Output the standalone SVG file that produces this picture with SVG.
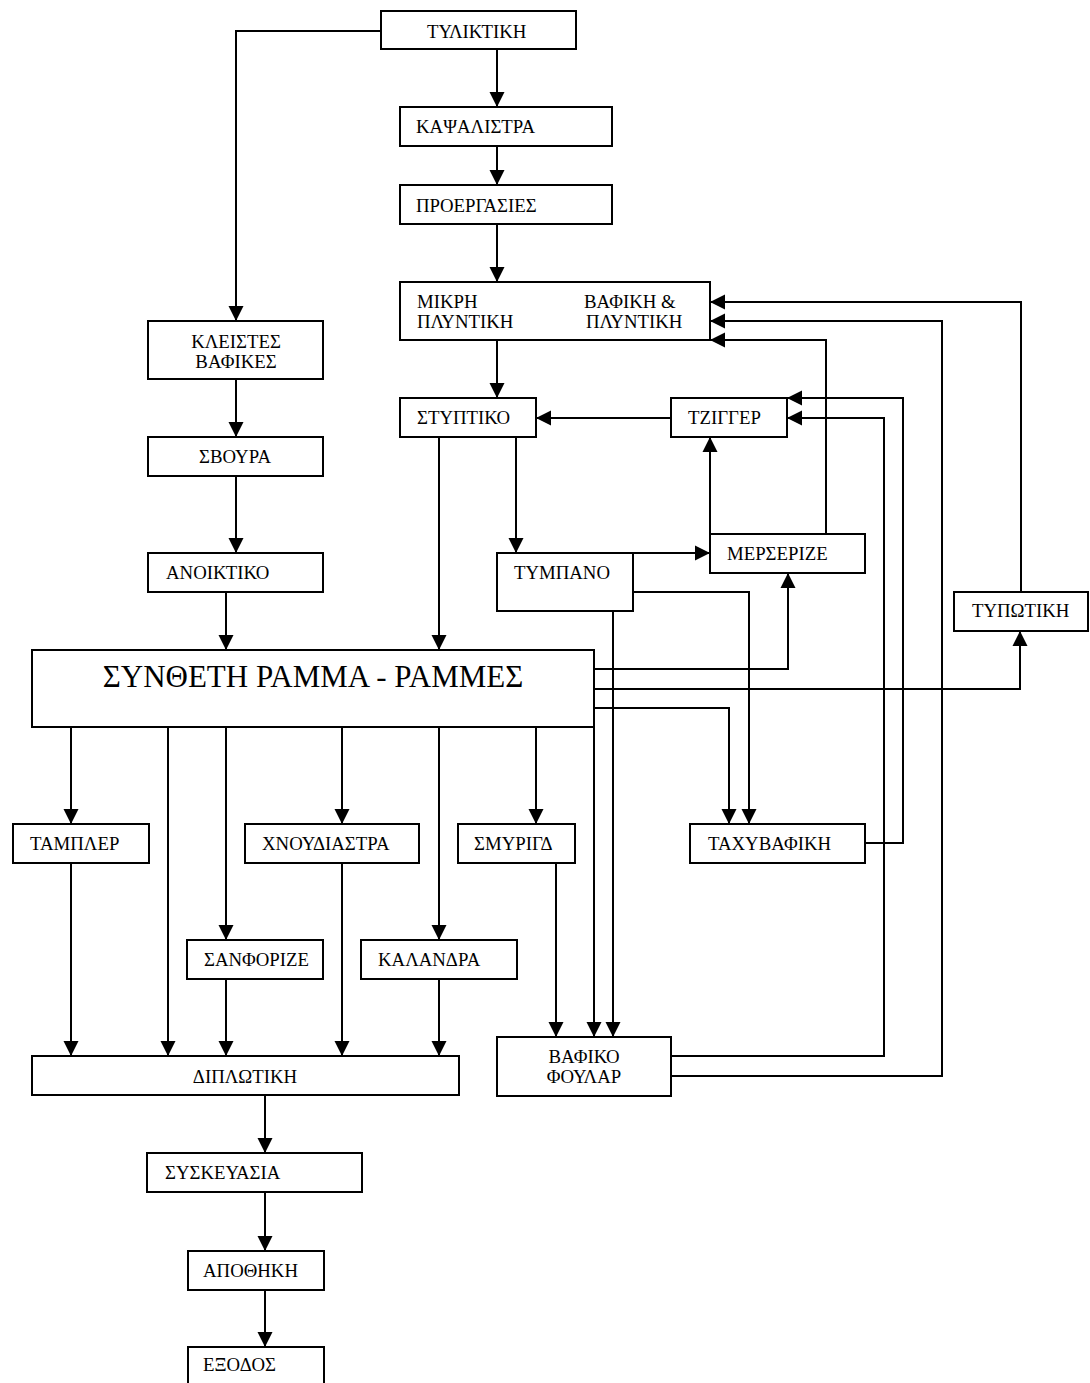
<svg xmlns="http://www.w3.org/2000/svg" width="1090" height="1383" viewBox="0 0 1090 1383">
<style>
rect{fill:#fff;stroke:#000;stroke-width:2}
text{font-family:"Liberation Serif","DejaVu Serif",serif;font-size:18.8px;fill:#000}
.big{font-size:31px}
.c{text-anchor:middle}
#connectors path{fill:none;stroke:#000;stroke-width:2;marker-end:url(#ah)}
</style>
<defs>
<marker id="ah" markerUnits="userSpaceOnUse" markerWidth="16" markerHeight="16" viewBox="0 0 16 16" refX="15" refY="8" orient="auto">
<path d="M0,0.5 L15,8 L0,15.5 Z" fill="#000"/>
</marker>
</defs>
<rect x="0" y="0" width="1090" height="1383" style="stroke:none"/>
<g id="connectors">
<path d="M497 49V107"/>
<path d="M497 146V185"/>
<path d="M497 224V282"/>
<path d="M381 31H236V321"/>
<path d="M236 379V437"/>
<path d="M236 476V553"/>
<path d="M226 592V650"/>
<path d="M497 340V398"/>
<path d="M439 437V650"/>
<path d="M516 437V553"/>
<path d="M671 418H536"/>
<path d="M710 534V437"/>
<path d="M826 534V340H710"/>
<path d="M633 553H710"/>
<path d="M633 592H749V824"/>
<path d="M613 611V1037"/>
<path d="M594 669H788V573"/>
<path d="M594 689H1020V631"/>
<path d="M594 708H729V824"/>
<path d="M1021 592V302H710"/>
<path d="M671 1076H942V321H710"/>
<path d="M865 843H903V398H787"/>
<path d="M671 1056H884V418H787"/>
<path d="M594 727V1037"/>
<path d="M71 727V824"/>
<path d="M168 727V1056"/>
<path d="M226 727V940"/>
<path d="M342 727V824"/>
<path d="M439 727V940"/>
<path d="M536 727V824"/>
<path d="M71 863V1056"/>
<path d="M226 979V1056"/>
<path d="M342 863V1056"/>
<path d="M439 979V1056"/>
<path d="M556 863V1037"/>
<path d="M265 1095V1153"/>
<path d="M265 1192V1251"/>
<path d="M265 1290V1347"/>
</g>
<g id="n-tyliktiki"><rect x="381" y="11" width="195" height="38"/><text x="427" y="38">ΤΥΛΙΚΤΙΚΗ</text></g>
<g id="n-kapsalistra"><rect x="400" y="107" width="212" height="39"/><text x="416" y="133">ΚΑΨΑΛΙΣΤΡΑ</text></g>
<g id="n-proergasies"><rect x="400" y="185" width="212" height="39"/><text x="416" y="212">ΠΡΟΕΡΓΑΣΙΕΣ</text></g>
<g id="n-mikri"><rect x="400" y="282" width="310" height="58"/><text x="417" y="308">ΜΙΚΡΗ</text><text x="417" y="328">ΠΛΥΝΤΙΚΗ</text><text x="584" y="308">ΒΑΦΙΚΗ &amp;</text><text x="586" y="328">ΠΛΥΝΤΙΚΗ</text></g>
<g id="n-styptiko"><rect x="400" y="398" width="136" height="39"/><text x="417" y="424">ΣΤΥΠΤΙΚΟ</text></g>
<g id="n-tzigger"><rect x="671" y="398" width="116" height="39"/><text x="688" y="424">ΤΖΙΓΓΕΡ</text></g>
<g id="n-merserize"><rect x="710" y="534" width="155" height="39"/><text x="727" y="560">ΜΕΡΣΕΡΙΖΕ</text></g>
<g id="n-tympano"><rect x="497" y="553" width="136" height="58"/><text x="514" y="579">ΤΥΜΠΑΝΟ</text></g>
<g id="n-typotiki"><rect x="954" y="592" width="134" height="39"/><text x="972" y="617">ΤΥΠΩΤΙΚΗ</text></g>
<g id="n-kleistes"><rect x="148" y="321" width="175" height="58"/><text class="c" x="236" y="348">ΚΛΕΙΣΤΕΣ</text><text class="c" x="236" y="368">ΒΑΦΙΚΕΣ</text></g>
<g id="n-svoura"><rect x="148" y="437" width="175" height="39"/><text class="c" x="235" y="463">ΣΒΟΥΡΑ</text></g>
<g id="n-anoiktiko"><rect x="148" y="553" width="175" height="39"/><text x="166" y="579">ΑΝΟΙΚΤΙΚΟ</text></g>
<g id="n-syntheti"><rect x="32" y="650" width="562" height="77"/><text class="big c" x="313" y="687">ΣΥΝΘΕΤΗ ΡΑΜΜΑ - ΡΑΜΜΕΣ</text></g>
<g id="n-tampler"><rect x="13" y="824" width="136" height="39"/><text x="30" y="850">ΤΑΜΠΛΕΡ</text></g>
<g id="n-chnoudiastra"><rect x="245" y="824" width="174" height="39"/><text x="262" y="850">ΧΝΟΥΔΙΑΣΤΡΑ</text></g>
<g id="n-smyrigd"><rect x="458" y="824" width="117" height="39"/><text x="474" y="850">ΣΜΥΡΙΓΔ</text></g>
<g id="n-tachyvafiki"><rect x="690" y="824" width="175" height="39"/><text x="708" y="850">ΤΑΧΥΒΑΦΙΚΗ</text></g>
<g id="n-sanforize"><rect x="187" y="940" width="136" height="39"/><text x="204" y="966">ΣΑΝΦΟΡΙΖΕ</text></g>
<g id="n-kalandra"><rect x="361" y="940" width="156" height="39"/><text x="378" y="966">ΚΑΛΑΝΔΡΑ</text></g>
<g id="n-diplotiki"><rect x="32" y="1056" width="427" height="39"/><text class="c" x="245" y="1083">ΔΙΠΛΩΤΙΚΗ</text></g>
<g id="n-foular"><rect x="497" y="1037" width="174" height="59"/><text class="c" x="584" y="1063">ΒΑΦΙΚΟ</text><text class="c" x="584" y="1083">ΦΟΥΛΑΡ</text></g>
<g id="n-syskevasia"><rect x="147" y="1153" width="215" height="39"/><text x="165" y="1179">ΣΥΣΚΕΥΑΣΙΑ</text></g>
<g id="n-apothiki"><rect x="188" y="1251" width="136" height="39"/><text x="203" y="1277">ΑΠΟΘΗΚΗ</text></g>
<g id="n-exodos"><rect x="188" y="1347" width="136" height="45"/><text x="203" y="1371">ΕΞΟΔΟΣ</text></g>
</svg>
